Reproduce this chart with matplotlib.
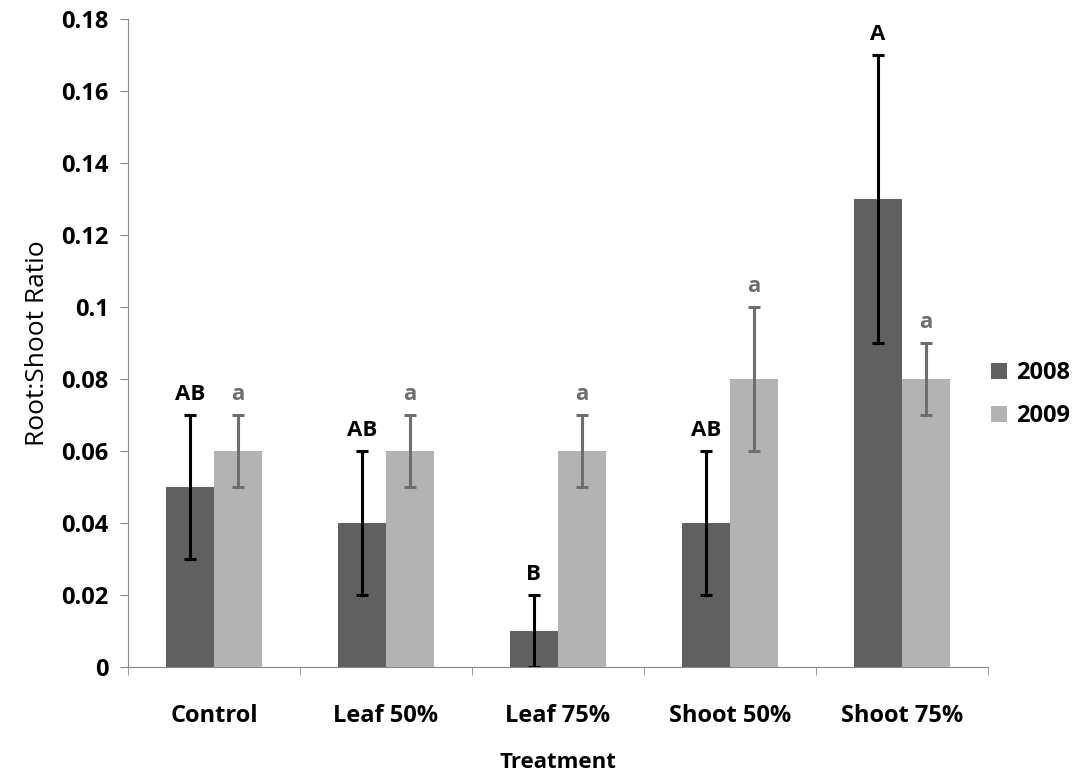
import matplotlib.pyplot as plt
import numpy as np

treatments = ["Control", "Leaf 50%", "Leaf 75%", "Shoot 50%", "Shoot 75%"]
ratio_2008 = [0.05, 0.04, 0.01, 0.04, 0.13]
err_2008 = [0.02, 0.02, 0.01, 0.02, 0.04]
ratio_2009 = [0.06, 0.06, 0.06, 0.08, 0.08]
err_2009 = [0.01, 0.01, 0.01, 0.02, 0.01]
letters_2008 = ["AB", "AB", "B", "AB", "A"]
letters_2009 = ["a", "a", "a", "a", "a"]

plt.rcParams['font.family'] = ['Open Sans', 'DejaVu Sans']

fig = plt.figure(figsize=(10.79, 7.77), dpi=100)
ax = fig.add_axes([0.1186, 0.1416, 0.797, 0.834])

x = np.arange(len(treatments))
w = 0.28
dark = '#606060'
light = '#b3b3b3'

ax.bar(x - w / 2, ratio_2008, w, color=dark, label='2008')
ax.bar(x + w / 2, ratio_2009, w, color=light, label='2009')
ax.errorbar(x - w / 2, ratio_2008, yerr=err_2008, fmt='none', ecolor='black',
            elinewidth=2.2, capsize=4, capthick=2.2)
ax.errorbar(x + w / 2, ratio_2009, yerr=err_2009, fmt='none', ecolor='#6e6e6e',
            elinewidth=2.2, capsize=4, capthick=2.2)

for i in range(len(treatments)):
    ax.annotate(letters_2008[i], (x[i] - w / 2, ratio_2008[i] + err_2008[i]),
                xytext=(0, 7), textcoords='offset points', ha='center', va='bottom',
                fontsize=16, fontweight='bold', color='black')
    ax.annotate(letters_2009[i], (x[i] + w / 2, ratio_2009[i] + err_2009[i]),
                xytext=(0, 7), textcoords='offset points', ha='center', va='bottom',
                fontsize=16, fontweight='bold', color='#6e6e6e')

ax.set_xlim(-0.5, len(treatments) - 0.5)
ax.set_ylim(0, 0.18)
ax.set_yticks(np.arange(0, 0.181, 0.02))
ax.set_yticklabels(["0"] + ["%g" % v for v in np.arange(0.02, 0.181, 0.02)])
ax.set_xticks(x)
ax.set_xticklabels(treatments)
ax.set_xticks(np.arange(-0.5, len(treatments), 1), minor=True)
ax.tick_params(axis='x', which='major', length=0, pad=27, labelsize=17)
ax.tick_params(axis='x', which='minor', length=6, color='#888888')
ax.tick_params(axis='y', length=6, color='#888888', labelsize=17, pad=8)
for lab in ax.get_xticklabels() + ax.get_yticklabels():
    lab.set_fontweight('bold')

for s in ['top', 'right']:
    ax.spines[s].set_visible(False)
for s in ['left', 'bottom']:
    ax.spines[s].set_color('#888888')

ax.set_ylabel("Root:Shoot Ratio", fontsize=19, labelpad=8)
ax.set_xlabel("Treatment", fontsize=16, fontweight='bold', labelpad=17)

ax.legend(loc='center left', bbox_to_anchor=(1.0, 0.42), frameon=False,
          handlelength=0.65, handleheight=0.65, labelspacing=0.8, handletextpad=0.4,
          borderaxespad=0.05, borderpad=0.1,
          prop={'weight': 'bold', 'size': 17})

fig.savefig("out.png", dpi=100)
